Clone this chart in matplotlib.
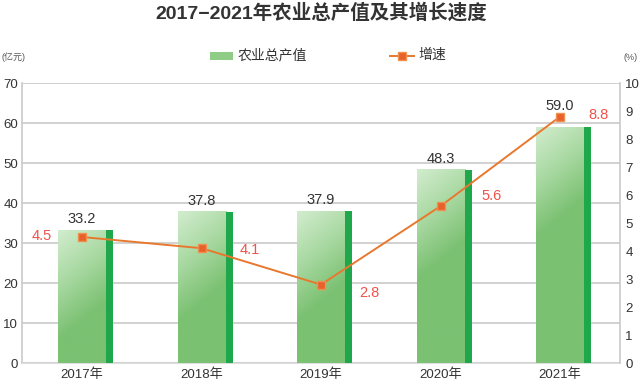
import numpy as np
import matplotlib
matplotlib.use("Agg")
import matplotlib.pyplot as plt
from matplotlib.colors import LinearSegmentedColormap
from matplotlib.patches import Rectangle
from matplotlib.lines import Line2D

plt.rcParams['font.family'] = ['Liberation Sans', 'Noto Sans CJK SC', 'DejaVu Sans']

years = ['2017年', '2018年', '2019年', '2020年', '2021年']
output = [33.2, 37.8, 37.9, 48.3, 59.0]
growth = [4.5, 4.1, 2.8, 5.6, 8.8]

# label offsets in points (x, y) for the growth numbers and bar values
growth_off = [(-29, 1), (35, -1), (35, -6), (37, 7), (28, 1)]
value_off = [3, 3, 3, 3, 10]

W, H = 641, 384
fig = plt.figure(figsize=(W / 100, H / 100), dpi=100)
ax = fig.add_axes([22.25 / W, 21 / H, 597.5 / W, 280 / H])
ax2 = ax.twinx()

x = np.arange(len(years))
grid_c = '#c9c9c9'
cmap = LinearSegmentedColormap.from_list('g', ['#d2ecce', '#a9d9a2', '#7bc172'])

main_l, main_r, strip_r = -0.20, 0.205, 0.26
for i, v in enumerate(output):
    # gradient body of the bar
    ny, nx = 200, 30
    yy = np.linspace(v, 0, ny)[:, None]
    xx = np.linspace(0, 1, nx)[None, :]
    t = np.clip((v - yy) * 4 / 110 + xx * 0.35, 0, 1)
    ax.imshow(t, extent=[i + main_l, i + main_r, 0, v], aspect='auto',
              cmap=cmap, vmin=0, vmax=1, zorder=2, interpolation='bilinear')
    ax.add_patch(Rectangle((i + main_r, 0), strip_r - main_r, v,
                           color='#1ea84b', lw=0, zorder=3))
    ax.annotate(f'{v:.1f}', (i, v), xytext=(0, value_off[i]),
                textcoords='offset points', ha='center', va='bottom',
                fontsize=10.5, color='#333333')

ax.set_xlim(-0.5, 4.5)
ax.set_ylim(0, 70)
ax.set_yticks(range(0, 71, 10))
ax.set_xticks(x)
ax.set_xticklabels(years, fontsize=9, color='#333333')
ax.yaxis.grid(True, color=grid_c, lw=1.2)
ax.set_axisbelow(True)
ax.tick_params(axis='both', length=0, labelsize=9.5, colors='#333333')
ax.tick_params(axis='y', pad=3)
ax.tick_params(axis='x', pad=4)

ax2.plot(x, growth, color='#e8782e', lw=1.4, marker='s', markersize=6,
         markerfacecolor='#e8602a', markeredgecolor='#f09050', zorder=5)
for i, g in enumerate(growth):
    ax2.annotate(f'{g:.1f}', (i, g), xytext=growth_off[i],
                 textcoords='offset points', ha='center', va='center',
                 fontsize=10.5, color='#f0524a')
ax2.set_ylim(0, 10)
ax2.set_yticks(range(0, 11))
ax2.tick_params(axis='y', length=0, labelsize=9.5, colors='#333333', pad=4)

for a in (ax, ax2):
    for s in a.spines.values():
        s.set_visible(False)
ax.spines['left'].set_visible(True)
ax.spines['left'].set_color(grid_c)
ax.spines['left'].set_linewidth(1.2)
ax.spines['bottom'].set_visible(True)
ax.spines['bottom'].set_color('#dddddd')
ax2.spines['right'].set_visible(True)
ax2.spines['right'].set_color(grid_c)
ax2.spines['right'].set_linewidth(1.2)

fig.text(321 / W, 1 - 13 / H, '2017−2021年农业总产值及其增长速度', ha='center', va='center',
         fontsize=14, fontweight='bold', color='#333333')
fig.text(1 / W, 1 - 57 / H, '(亿元)', ha='left', va='center', fontsize=6.5, color='#555555')
fig.text(631 / W, 1 - 57 / H, '(%)', ha='center', va='center', fontsize=6.5, color='#555555')

# legend drawn by hand in figure pixels
fig.patches.append(Rectangle((210 / W, 1 - 60 / H), 23 / W, 8 / H,
                             transform=fig.transFigure, color='#8fcc86', lw=0))
fig.text(238 / W, 1 - 55 / H, '农业总产值', ha='left', va='center', fontsize=10, color='#333333')
fig.add_artist(Line2D([390 / W, 414 / W], [1 - 56 / H, 1 - 56 / H], transform=fig.transFigure,
                      color='#e8782e', lw=1.4))
fig.add_artist(Line2D([402 / W], [1 - 56 / H], transform=fig.transFigure, marker='s',
                      markersize=6, markerfacecolor='#e8602a', markeredgecolor='#f09050'))
fig.text(418 / W, 1 - 55 / H, '增速', ha='left', va='center', fontsize=10, color='#333333')

fig.savefig('out.png', dpi=100)
